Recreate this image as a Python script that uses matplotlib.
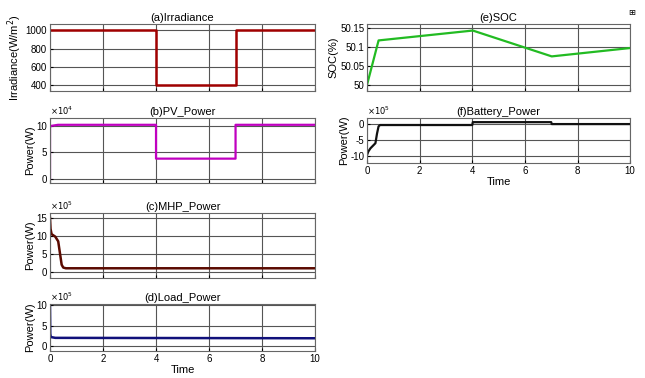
import matplotlib
matplotlib.use("Agg")
import matplotlib.pyplot as plt
import numpy as np

plt.rcParams['font.family'] = ['Liberation Sans', 'DejaVu Sans']
plt.rcParams['font.size'] = 7
plt.rcParams['axes.unicode_minus'] = False

# data (time in s)
irr_t = [0, 4, 4, 7, 7, 10]
irr_v = [1000, 1000, 400, 400, 1000, 1000]

pv_t = [0, 0, 0.05, 0.3, 4, 4, 7, 7, 10]
pv_v = [0, 9.8, 10.0, 10.2, 10.2, 3.8, 3.8, 10.2, 10.2]          # x1e4 W

mhp_t = [0, 0.02, 0.06, 0.2, 0.31, 0.38, 0.44, 0.5, 0.6, 10]
mhp_v = [15, 12, 10.5, 9.8, 8.5, 5.0, 2.0, 1.2, 1.0, 1.0]         # x1e5 W

load_t = [0, 0.01, 0.03, 0.2, 10]
load_v = [9.5, 3.0, 2.2, 2.0, 1.9]                                # x1e5 W

soc_t = [0, 0.44, 4.02, 7.02, 10]
soc_v = [50.0, 50.117, 50.143, 50.075, 50.097]                    # %

bat_t = [0, 0.05, 0.13, 0.32, 0.38, 0.44, 0.5, 4, 4.02, 7, 7.02, 10]
bat_v = [-9.7, -8.6, -7.6, -6.0, -3.0, -0.7, -0.3, -0.3, 0.6, 0.6, 0.0, 0.0]  # x1e5 W

fig = plt.figure(figsize=(6.45, 3.78), dpi=100)


def style(ax, title, ylabel, yticks, ylim, ytl=None, exp=None, xlab=False):
    ax.set_xlim(0, 10)
    ax.set_ylim(*ylim)
    ax.set_xticks(np.arange(0, 11, 2))
    ax.set_yticks(yticks)
    if ytl is not None:
        ax.set_yticklabels(ytl)
    if not xlab:
        ax.set_xticklabels([])
    else:
        ax.set_xlabel("Time", fontsize=8, labelpad=1)
    ax.grid(True, color='#555555', linewidth=0.8)
    ax.set_axisbelow(True)
    ax.tick_params(direction='in', length=2, pad=2, labelsize=7)
    for s in ax.spines.values():
        s.set_color('#666666')
    ax.set_title(title, fontsize=8, pad=2)
    ax.set_ylabel(ylabel, fontsize=8, labelpad=1)
    if exp:
        ax.text(0.0, 1.02, r"$\times10^{%d}$" % exp, transform=ax.transAxes,
                fontsize=6, ha='left', va='bottom')


ax = fig.add_axes([0.0775, 0.7593, 0.411, 0.177])
ax.plot(irr_t, irr_v, color='#a00000', lw=1.8)
style(ax, "(a)Irradiance", "Irradiance(W/m$^2$)", [400, 600, 800, 1000], (340, 1070))

ax = fig.add_axes([0.0775, 0.516, 0.411, 0.172])
ax.plot(pv_t, pv_v, color='#c000c0', lw=1.6)
style(ax, "(b)PV_Power", "Power(W)", [0, 5, 10], (-0.8, 11.5), exp=4)

ax = fig.add_axes([0.0775, 0.2646, 0.411, 0.172])
ax.plot(mhp_t, mhp_v, color='#5a0a00', lw=1.8)
style(ax, "(c)MHP_Power", "Power(W)", [0, 5, 10, 15], (-1.7, 16.4), exp=5)

ax = fig.add_axes([0.0775, 0.0714, 0.411, 0.124])
ax.plot(load_t, load_v, color='#10107a', lw=1.8)
style(ax, "(d)Load_Power", "Power(W)", [0, 5, 10], (-1.2, 10.2), exp=5, xlab=True)

ax = fig.add_axes([0.569, 0.7593, 0.408, 0.177])
ax.plot(soc_t, soc_v, color='#22bb22', lw=1.6)
style(ax, "(e)SOC", "SOC(%)", [50, 50.05, 50.1, 50.15], (49.984, 50.16),
      ytl=["50", "50.05", "50.1", "50.15"])

ax = fig.add_axes([0.569, 0.5688, 0.408, 0.119])
ax.plot(bat_t, bat_v, color='#111111', lw=1.6)
style(ax, "(f)Battery_Power", "Power(W)", [-10, -5, 0], (-12.2, 1.9), exp=5, xlab=True)

# small figure-toolbar glyph at top right
fig.text(0.985, 0.968, "\u229e", fontsize=6, family=['DejaVu Sans'], ha='right', va='center')

fig.savefig("out.png", dpi=100)
